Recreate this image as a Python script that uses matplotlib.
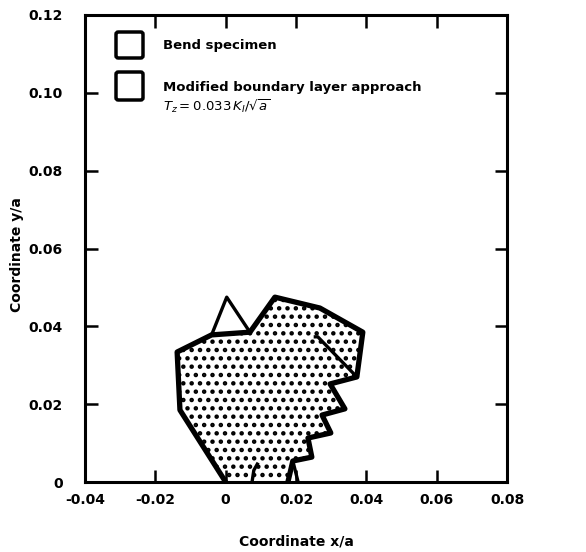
import matplotlib
matplotlib.use("Agg")
import matplotlib.pyplot as plt
from matplotlib.patches import Polygon, FancyBboxPatch

# ---- data ----
xticks = [-0.04, -0.02, 0.0, 0.02, 0.04, 0.06, 0.08]
xtick_labels = ["-0.04", "-0.02", "0", "0.02", "0.04", "0.06", "0.08"]
yticks = [0.0, 0.02, 0.04, 0.06, 0.08, 0.10, 0.12]
ytick_labels = ["0", "0.02", "0.04", "0.06", "0.08", "0.10", "0.12"]

# shaded zone boundary (x/a, y/a)
zone_x = [0.0, -0.0130, -0.0138, -0.0040, 0.0069, 0.0140, 0.0268, 0.0390,
          0.0373, 0.0297, 0.0339, 0.0274, 0.0299, 0.0234, 0.0245, 0.0191, 0.0177]
zone_y = [0.0, 0.0185, 0.0334, 0.0378, 0.0385, 0.0475, 0.0447, 0.0385,
          0.0270, 0.0252, 0.0188, 0.0172, 0.0126, 0.0113, 0.0064, 0.0054, 0.0]

# thin outline segments (visible parts of the second contour)
spike_x = [-0.0040, 0.0003, 0.0069]
spike_y = [0.0378, 0.0475, 0.0385]
inner_x = [0.0255, 0.0262, 0.0373]
inner_y = [0.0373, 0.0373, 0.0270]
leg_x = [0.0191, 0.0206]
leg_y = [0.0054, 0.0]
hook_x = [0.0090, 0.0080, 0.0075]
hook_y = [0.0046, 0.0030, 0.0]

legend_labels = ["Bend specimen", "Modified boundary layer approach"]
legend_note = r"$T_z = 0.033\,K_I/\sqrt{a}$"

plt.rcParams['font.family'] = ['DejaVu Sans']
plt.rcParams['hatch.linewidth'] = 2.0

W, H = 586, 552
fig = plt.figure(figsize=(W / 100, H / 100), dpi=100)
ax = fig.add_axes([85 / W, 1 - 482 / H, (507 - 85) / W, (482 - 15) / H])

ax.set_xlim(-0.04, 0.08)
ax.set_ylim(0.0, 0.12)

zone = Polygon(list(zip(zone_x, zone_y)), closed=False, facecolor="white",
               edgecolor="black", hatch="..", linewidth=3.8, joinstyle="round")
ax.add_patch(zone)
for xs, ys in [(spike_x, spike_y), (inner_x, inner_y), (leg_x, leg_y), (hook_x, hook_y)]:
    ax.plot(xs, ys, color="black", linewidth=2.4, solid_joinstyle="round")

ax.set_xticks(xticks)
ax.set_xticklabels(xtick_labels)
ax.set_yticks(yticks)
ax.set_yticklabels(ytick_labels)
ax.tick_params(direction="in", length=9, width=1.8, top=True, right=True,
               labelsize=10)
ax.tick_params(axis="x", pad=8)
ax.tick_params(axis="y", pad=16)
for lab in ax.get_xticklabels() + ax.get_yticklabels():
    lab.set_fontweight("bold")
for s in ax.spines.values():
    s.set_linewidth(2.2)

ax.set_xlabel("Coordinate x/a", fontsize=10, fontweight="bold")
ax.set_ylabel("Coordinate y/a", fontsize=10, fontweight="bold")
ax.xaxis.set_label_coords(0.5, -0.113)
ax.yaxis.set_label_coords(-0.145, 0.486)

# legend drawn manually in figure pixel coordinates
def fx(px):
    return px / W

def fy(py):
    return 1 - py / H

for i, (top, bot) in enumerate([(32, 58), (72, 100)]):
    box = FancyBboxPatch((fx(116), fy(bot)), fx(143) - fx(116), fy(top) - fy(bot),
                         boxstyle="round,pad=0,rounding_size=0.004",
                         transform=fig.transFigure, facecolor="white",
                         edgecolor="black", linewidth=2.5)
    fig.patches.append(box)
fig.text(fx(163), fy(45), legend_labels[0], fontsize=9.5, fontweight="bold",
         va="center", ha="left")
fig.text(fx(163), fy(87), legend_labels[1], fontsize=9.5, fontweight="bold",
         va="center", ha="left")
fig.text(fx(163), fy(106), legend_note, fontsize=9.5, va="center", ha="left")

fig.savefig("out.png", dpi=100)
